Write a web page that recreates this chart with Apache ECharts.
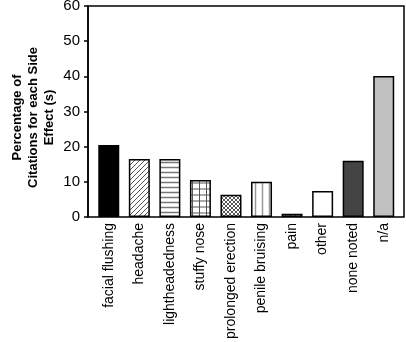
<!DOCTYPE html>
<html>
<head>
<meta charset="utf-8">
<script src="https://cdn.jsdelivr.net/npm/echarts@6/dist/echarts.min.js"></script>
<style>
  html, body { margin: 0; padding: 0; background: #fff; }
  #chart { width: 406px; height: 342px; }
</style>
</head>
<body>
<div id="chart"></div>
<script>
var categories = ['facial flushing', 'headache', 'lightheadedness', 'stuffy nose', 'prolonged erection',
  'penile bruising', 'pain', 'other', 'none noted', 'n/a'];
var values = [20.5, 16.5, 16.5, 10.5, 6.3, 10, 0.9, 7.4, 16, 40.1];
var yTicks = [0, 10, 20, 30, 40, 50, 60];

// small canvas tiles used as bar fills
function pattern(w, h, draw) {
  var c = document.createElement('canvas');
  c.width = w; c.height = h;
  var ctx = c.getContext('2d');
  ctx.fillStyle = '#fff';
  ctx.fillRect(0, 0, w, h);
  draw(ctx, w, h);
  return { image: c, repeat: 'repeat' };
}
function line(ctx, x1, y1, x2, y2, col, lw) {
  ctx.strokeStyle = col; ctx.lineWidth = lw;
  ctx.beginPath(); ctx.moveTo(x1, y1); ctx.lineTo(x2, y2); ctx.stroke();
}

var diagUp = pattern(5, 5, function (c, w, h) {
  line(c, -1, h + 1, w + 1, -1, '#555', 1);
  line(c, -1, 1, 1, -1, '#555', 1);
  line(c, w - 1, h + 1, w + 1, h - 1, '#555', 1);
});
var diagDown = pattern(5, 5, function (c, w, h) {
  line(c, -1, -1, w + 1, h + 1, '#555', 1);
  line(c, w - 1, -1, w + 1, 1, '#555', 1);
  line(c, -1, h - 1, 1, h + 1, '#555', 1);
});
var horiz = pattern(6, 5, function (c, w, h) {
  line(c, 0, 2.5, w, 2.5, '#777', 1.5);
});
var grid = pattern(7, 6, function (c, w, h) {
  line(c, 0, 3, w, 3, '#555', 1);
  line(c, 3.5, 0, 3.5, h, '#555', 1);
});
var cross = pattern(4, 4, function (c, w, h) {
  line(c, -1, -1, w + 1, h + 1, '#444', 0.9);
  line(c, -1, h + 1, w + 1, -1, '#444', 0.9);
});
var vert = pattern(7, 6, function (c, w, h) {
  line(c, 3.5, 0, 3.5, h, '#999', 1.5);
});

var fills = ['#000', diagUp, horiz, grid, cross, vert, diagDown, '#fff', '#444', '#c0c0c0'];

var font = '"Liberation Sans", Arial, sans-serif';
var chart = echarts.init(document.getElementById('chart'), null, { renderer: 'canvas' });

chart.setOption({
  animation: false,
  grid: [
    { left: 88, right: 2, top: 6, bottom: 125, outerBoundsMode: 'none', containLabel: false,
      show: true, borderColor: '#000', borderWidth: 1.5, backgroundColor: 'transparent' },
    { left: 93.5, right: 7, top: 6, bottom: 125, outerBoundsMode: 'none', containLabel: false }
  ],
  xAxis: [
    { gridIndex: 0, type: 'value', show: false },
    {
      gridIndex: 1,
      type: 'category',
      data: categories,
      axisLine: { show: false },
      axisTick: { show: false },
      axisLabel: {
        rotate: 90,
        interval: 0,
        margin: 6,
        fontSize: 14,
        color: '#000',
        fontFamily: font
      }
    }
  ],
  yAxis: [
    {
      gridIndex: 0,
      type: 'value',
      min: yTicks[0],
      max: yTicks[yTicks.length - 1],
      interval: 10,
      name: 'Percentage of\nCitations for each Side\nEffect (s)',
      nameLocation: 'middle',
      nameGap: 31,
      nameMoveOverlap: false,
      nameTextStyle: {
        fontSize: 13,
        fontWeight: 'bold',
        lineHeight: 16,
        padding: [0, 12, 0, 0],
        color: '#000',
        fontFamily: font
      },
      axisLine: { show: true, lineStyle: { color: '#000', width: 1.5 } },
      axisTick: { show: true, length: 4, lineStyle: { color: '#000', width: 1.5 } },
      axisLabel: {
        margin: 8,
        fontSize: 15,
        color: '#000',
        fontFamily: font
      },
      splitLine: { show: false }
    },
    {
      gridIndex: 1,
      type: 'value',
      min: yTicks[0],
      max: yTicks[yTicks.length - 1],
      show: false,
      splitLine: { show: false }
    }
  ],
  series: [{
    type: 'bar',
    xAxisIndex: 1,
    yAxisIndex: 1,
    barWidth: 21,
    data: values.map(function (v, i) {
      return { value: v, itemStyle: { color: fills[i] } };
    }),
    itemStyle: { borderColor: '#000', borderWidth: 1.5 }
  }]
});
</script>
</body>
</html>
